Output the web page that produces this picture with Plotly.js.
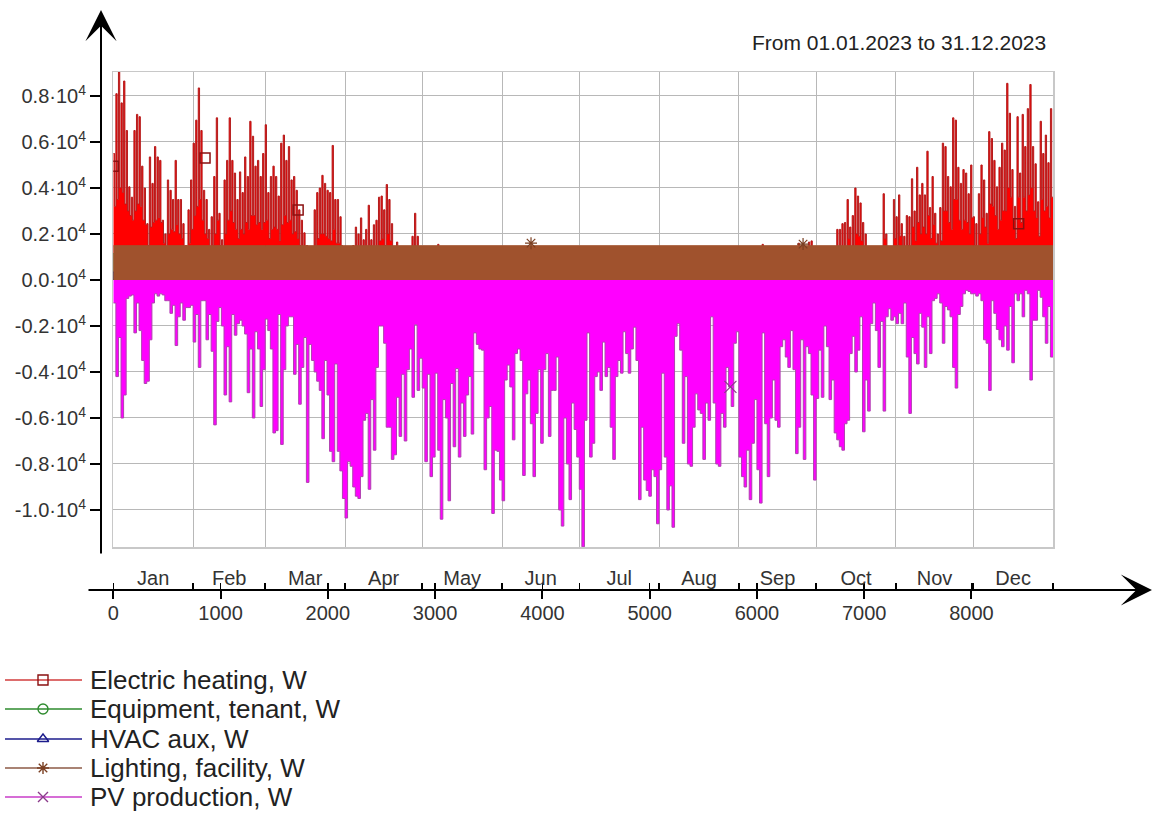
<!DOCTYPE html>
<html><head><meta charset="utf-8">
<script src="https://cdn.plot.ly/plotly-3.0.1.min.js"></script>
<style>html,body{margin:0;padding:0;background:#fff}#chart{width:1154px;height:814px}</style>
</head><body><div id="chart"></div>
<script>
// ---------------- DATA ----------------
const monthNames = ['Jan','Feb','Mar','Apr','May','Jun','Jul','Aug','Sep','Oct','Nov','Dec'];
const monthStartHours = [0,744,1416,2160,2880,3624,4344,5088,5832,6552,7296,8016,8760];
const xTickVals = [0,1000,2000,3000,4000,5000,6000,7000,8000];
const xTickText = ['0','1000','2000','3000','4000','5000','6000','7000','8000'];
const yTickVals = [-10000,-8000,-6000,-4000,-2000,0,2000,4000,6000,8000];
const yTickText = ['-1.0·10<sup>4</sup>','-0.8·10<sup>4</sup>','-0.6·10<sup>4</sup>','-0.4·10<sup>4</sup>','-0.2·10<sup>4</sup>',
                   '0.0·10<sup>4</sup>','0.2·10<sup>4</sup>','0.4·10<sup>4</sup>','0.6·10<sup>4</sup>','0.8·10<sup>4</sup>'];
const seriesNames = ['Electric heating, W','Equipment, tenant, W','HVAC aux, W','Lighting, facility, W','PV production, W'];
const periodText = 'From 01.01.2023 to 31.12.2023';

// Electric heating, W : daily peak (first half of day) and daily low (second half), one value per day
const heatDailyPeak = [
 5500,8100,9050,7700,8650,6500,4050,3600,6500,7200,7100,4950,4000,2450,5350,4200,5800,5350,5200,2600,2000,4350,3900,3500,5200,3500,3500,2450,1500,3050,4350, // Jan
 5950,6950,8350,6500,3900,3500,2200,2750,4500,7050,2900,1750,4350,5200,7050,5200,4650,3500,4700,3800,5350,4500,6900,6250,4950,5200,4500,5500, // Feb
 6750,3800,4500,4950,4500,3650,5950,6300,5200,5800,4350,4500,3900,3050,2600,2050,1500,1000,800,3050,3800,4000,4550,4200,3900,3800,5850,3500,3500,2750,1200, // Mar
 1000,800,1200,1500,2300,2000,2700,1750,2200,3250,1750,2400,2600,3600,3650,3050,4150,3500,2450,1400,1650,600,600,600,600,1000,1900,2900,1900,800, // Apr
 0,0,0,0,0,0,1550,0,0,0,0,0,0,0,0,0,0,0,0,0,0,0,0,0,0,0,0,0,0,0,0, // May
 0,0,0,0,0,0,0,0,0,0,0,0,0,0,0,0,0,0,0,0,0,0,0,0,0,0,0,0,0,0, // Jun
 0,0,0,0,0,0,0,0,0,0,0,0,0,0,0,0,0,0,0,0,0,0,0,0,0,0,0,0,0,0,0, // Jul
 0,0,0,0,0,0,0,0,0,0,0,0,0,0,0,0,0,0,0,0,0,0,0,0,0,0,0,0,0,0,0, // Aug
 0,0,0,0,0,0,0,0,0,1550,0,0,0,0,0,0,0,0,0,0,0,0,0,1600,0,0,0,1650,1700,0, // Sep
 0,0,0,0,0,600,900,1200,2200,2200,2450,2500,3500,2300,2800,4000,3650,3350,2500,2000,1000,800,700,900,1200,1400,3750,2000,1300,1400,3500, // Oct
 2750,3700,2450,1900,2800,2750,4400,3000,4900,3700,4200,3700,5600,3150,4500,2900,2000,3150,5950,5800,4500,4050,7050,6950,4900,4200,4800,4650,3750,5000, // Nov
 2750,2450,3750,5000,4350,2900,6450,6150,5200,4050,4900,5950,5650,8550,7250,4800,3200,7100,4650,7200,5800,7450,8500,5800,5050,3400,6900,5500,6300,5100,7450  // Dec
];
const heatDailyLow = [
 3200,3500,4000,3800,3300,3000,2800,2600,3000,3300,3200,2600,2400,1500,2300,2500,2600,2700,2500,1600,1200,2000,2200,2100,2400,2000,1800,1400,900,1600,2200, // Jan
 2800,3200,3500,2600,2000,1800,1200,1500,2000,2600,1500,1000,2000,2600,3000,2500,2200,1800,2200,2000,2500,2200,2800,2800,2400,2500,2200,2500, // Feb
 2600,1800,2200,2300,2200,1700,2400,2800,2500,2600,2000,2100,1800,1500,1300,1000,700,500,400,1200,1800,2000,2000,1900,1800,1700,2200,1600,1600,1500,1100, // Mar
 500,400,500,700,1100,1000,1300,900,1100,1500,900,1200,1300,1700,1800,1500,2000,1700,1200,700,800,300,300,300,300,500,900,1300,900,400, // Apr
 0,0,0,0,0,0,0,0,0,0,0,0,0,0,0,0,0,0,0,0,0,0,0,0,0,0,0,0,0,0,0, // May
 0,0,0,0,0,0,0,0,0,0,0,0,0,0,0,0,0,0,0,0,0,0,0,0,0,0,0,0,0,0, // Jun
 0,0,0,0,0,0,0,0,0,0,0,0,0,0,0,0,0,0,0,0,0,0,0,0,0,0,0,0,0,0,0, // Jul
 0,0,0,0,0,0,0,0,0,0,0,0,0,0,0,0,0,0,0,0,0,0,0,0,0,0,0,0,0,0,0, // Aug
 0,0,0,0,0,0,0,0,0,0,0,0,0,0,0,0,0,0,0,0,0,0,0,0,0,0,0,0,0,0, // Sep
 0,0,0,0,0,300,400,600,1200,1200,1300,1300,1800,1200,1400,2000,1900,1700,1300,1000,500,400,300,400,600,700,1800,1000,700,700,1800, // Oct
 1500,1900,1300,1000,1500,1400,2300,1700,2500,2000,2300,2000,2800,1800,2400,1600,1100,1700,3000,3000,2500,2200,3500,3500,2600,2200,2600,2500,2000,2700, // Nov
 1500,1400,2000,2700,2300,1600,3300,3200,2800,2200,2600,3000,3000,4000,3600,2600,1800,3600,2500,3600,3000,3700,4000,3000,2700,1900,3500,3000,3200,2700,3600  // Dec
];
// PV production, W : daily peak (negative = production)
const pvDailyPeak = [
 -1000,-4200,-2500,-6000,-5000,-800,-700,-650,-2300,-1000,-2200,-3500,-4500,-4400,-2600,-1000,-600,-700,-600,-650,-900,-900,-1450,-1100,-2850,-1600,-1000,-1750,-1200,-1200,-1100, // Jan
 -2700,-1500,-3800,-900,-900,-2600,-1500,-3100,-6300,-1800,-1200,-2000,-5000,-2900,-5300,-1500,-2400,-1900,-1750,-2000,-2350,-4900,-3000,-6000,-2250,-3000,-5500,-3900, // Feb
 -1700,-2200,-3000,-6650,-6550,-1500,-7150,-3900,-2000,-1600,-1600,-4100,-2800,-5400,-3800,-2500,-8800,-2800,-3500,-4000,-4400,-4800,-6900,-3500,-5000,-7450,-7900,-3650,-7450,-8300,-9500, // Mar
 -10350,-7900,-8100,-9000,-9400,-9500,-8550,-6100,-5800,-9100,-5200,-7400,-3800,-2000,-2000,-2750,-6400,-6400,-7800,-7600,-5100,-6800,-4100,-7000,-3900,-3000,-5100,-1950,-4800,-3400, // Apr
 -4700,-7900,-4100,-8550,-7700,-4050,-7400,-10400,-5200,-6000,-9600,-4500,-7250,-3850,-7700,-5350,-6800,-5000,-4200,-6700,-2300,-2800,-3000,-3050,-8250,-6000,-5500,-10150,-7400,-7450,-8700, // May
 -9600,-4350,-3700,-4650,-6950,-3200,-3000,-3500,-8500,-4950,-4350,-6250,-8550,-5800,-3900,-7100,-3900,-3200,-6800,-4800,-4800,-3350,-10000,-10700,-6000,-8000,-9550,-5350,-6500,-7700, // Jun
 -9100,-11600,-6100,-2300,-7700,-7100,-4200,-4000,-4800,-2700,-4200,-3800,-6400,-7800,-4200,-3500,-4050,-2250,-3200,-4050,-3000,-2050,-3500,-9550,-6400,-8700,-9150,-9400,-8250,-8550,-10600, // Jul
 -8250,-4050,-7700,-10000,-8950,-10750,-2450,-1900,-3050,-7100,-4200,-8000,-8100,-6400,-4950,-5650,-5800,-7800,-5350,-6100,-1600,-5350,-8000,-8100,-5800,-6400,-3800,-4650,-5500,-2750,-2250, // Aug
 -7700,-8550,-9000,-7400,-9550,-7100,-5200,-8250,-9700,-2300,-6250,-8550,-6000,-4350,-6100,-6400,-2900,-2600,-3350,-3800,-2200,-3900,-7550,-6400,-2600,-7800,-2900,-3200,-5000,-8700, // Sep
 -5150,-3050,-5100,-2000,-2900,-5200,-4350,-6650,-6950,-7250,-7400,-6250,-6100,-3200,-2450,-4000,-3050,-1600,-6600,-4350,-5700,-1900,-1000,-2200,-3800,-1800,-5700,-1600,-1250,-1750,-1600, // Oct
 -1900,-1450,-1900,-1000,-3350,-5800,-2500,-3200,-3650,-1450,-2050,-3800,-1600,-3200,-900,-800,-600,-1000,-2750,-1150,-1300,-1600,-3800,-4700,-1500,-1150,-600,-450,-500,-600, // Nov
 -600,-700,-600,-900,-2600,-2750,-4800,-900,-1450,-2150,-2600,-2900,-2000,-3050,-1150,-3600,-600,-900,-600,-1600,-450,-600,-4350,-1750,-1750,-450,-750,-1600,-2750,-1150,-3350  // Dec
];
// monthly on-level of the flat loads, W
const lightingMonthly  = [1490,1490,1490,1490,1490,1490,1490,1490,1490,1490,1490,1490];
const equipmentMonthly = [1150,1150,1150,1150,1150,1150,1150,1150,1150,1150,1150,1150];
const hvacMonthly      = [350,350,350,350,350,350,350,350,350,350,350,350];
// curve markers as placed by the source program
const heatMarkHours = [0, 855, 1723, 8440];
const heatMarkValues = [4950, 5300, 3040, 2450];
const lightMarkHours = [3894, 6430];
const lightMarkValues = [1600, 1560];
const pvMarkHours = [5753];
const pvMarkValues = [-4650];

// ---------------- STYLE / LAYOUT ----------------
const W = 1154, H = 814;
const px = v => v / W, py = v => 1 - v / H;
const FONT = 'Liberation Sans, Arial, sans-serif';
const C = {
  heatFill:'#ff0000', heatLine:'#b41c1c', heatMark:'#8b1010', heatLeg:'#d23c3c',
  equip:'#2e8b2e', hvac:'#1c1c8c',
  light:'#a0522d', lightMark:'#7a3f22', lightLeg:'#8c5a46',
  pvFill:'#ff00ff', pvLine:'#b040b0', pvMark:'#8a3a8a', pvLeg:'#c83cc8',
  grid:'#b8b8b8', frame:'#c8c8c8', text:'#222'
};

// heating: first half of each day at the peak, second half at the low (step curve)
const heatX = [], heatY = [];
heatDailyPeak.forEach((v, d) => { heatX.push(d*24, d*24+12); heatY.push(v, heatDailyLow[d]); });
heatX.push(8760); heatY.push(heatY[heatY.length-1]);
// PV: one step per day
const pvX = [], pvY = [];
pvDailyPeak.forEach((v, d) => { pvX.push(d*24); pvY.push(v); });
pvX.push(8760); pvY.push(pvY[pvY.length-1]);
const stepY = arr => arr.concat([arr[arr.length-1]]);
const monthMid = monthNames.map((m,i) => (monthStartHours[i] + monthStartHours[i+1]) / 2);

const traces = [
  {x: heatX, y: heatY, type:'scatter', mode:'lines', fill:'tozeroy', fillcolor:C.heatFill,
   line:{shape:'hv', color:C.heatLine, width:1}, name:seriesNames[0], showlegend:false},
  {x: monthStartHours, y: stepY(equipmentMonthly), type:'scatter', mode:'lines', line:{shape:'hv', color:C.equip, width:1},
   fill:'tozeroy', fillcolor:C.equip, name:seriesNames[1], showlegend:false},
  {x: monthStartHours, y: stepY(hvacMonthly), type:'scatter', mode:'lines', line:{shape:'hv', color:C.hvac, width:1},
   fill:'tozeroy', fillcolor:C.hvac, name:seriesNames[2], showlegend:false},
  {x: monthStartHours, y: stepY(lightingMonthly), type:'scatter', mode:'lines', line:{shape:'hv', color:C.light, width:1},
   fill:'tozeroy', fillcolor:C.light, name:seriesNames[3], showlegend:false},
  {x: pvX, y: pvY, type:'scatter', mode:'lines', fill:'tozeroy', fillcolor:C.pvFill,
   line:{shape:'hv', color:C.pvLine, width:1}, name:seriesNames[4], showlegend:false},
  {x: heatMarkHours, y: heatMarkValues, type:'scatter', mode:'markers', showlegend:false,
   marker:{symbol:'square-open', size:10, color:C.heatMark, line:{width:1.5}}},
  {x: lightMarkHours, y: lightMarkValues, type:'scatter', mode:'markers', showlegend:false,
   marker:{symbol:'asterisk-open', size:10, color:C.lightMark, line:{width:1.2}}},
  {x: pvMarkHours, y: pvMarkValues, type:'scatter', mode:'markers', showlegend:false,
   marker:{symbol:'x-thin-open', size:12, color:C.pvMark, line:{width:1.2}}},
  // empty traces so that the free overlay axes (tick/label axes) get drawn
  {x:[], y:[], xaxis:'x', yaxis:'y2', type:'scatter', mode:'lines', showlegend:false, hoverinfo:'skip'},
  {x:[], y:[], xaxis:'x2', yaxis:'y', type:'scatter', mode:'lines', showlegend:false, hoverinfo:'skip'},
  {x:[], y:[], xaxis:'x3', yaxis:'y', type:'scatter', mode:'lines', showlegend:false, hoverinfo:'skip'},
  {x:[], y:[], xaxis:'x4', yaxis:'y', type:'scatter', mode:'lines', showlegend:false, hoverinfo:'skip'},
  {x:[], y:[], xaxis:'x6', yaxis:'y', type:'scatter', mode:'lines', showlegend:false, hoverinfo:'skip'}
];

// custom legend (long line samples like the source program)
const legendRowY = [680, 709, 739, 768, 797];
const legendLineColors = [C.heatLeg, C.equip, C.hvac, C.lightLeg, C.pvLeg];
const legendMarkColors = [C.heatMark, C.equip, C.hvac, C.lightMark, C.pvMark];
const legendSymbols = ['square-open','circle-open','triangle-up-open','asterisk-open','x-thin-open'];
const shapes = [];
const annotations = [];
seriesNames.forEach((name, i) => {
  shapes.push({type:'line', xref:'x5', yref:'y5', x0:5, x1:82, y0:legendRowY[i], y1:legendRowY[i],
               line:{color:legendLineColors[i], width:1.5}, layer:'below'});
  traces.push({x:[43], y:[legendRowY[i]], xaxis:'x5', yaxis:'y5', type:'scatter', mode:'markers', showlegend:false,
               hoverinfo:'skip', marker:{symbol:legendSymbols[i], size:10, color:legendMarkColors[i], line:{width:1.4}}});
  annotations.push({xref:'x5', yref:'y5', x:88, y:legendRowY[i], xanchor:'left', yanchor:'middle', showarrow:false,
                    text:name, font:{family:FONT, size:26, color:C.text}});
});
// title
annotations.push({xref:'paper', yref:'paper', x:px(1048), y:py(43), xanchor:'right', yanchor:'middle', showarrow:false,
                  text:periodText, font:{family:FONT, size:21, color:C.text}});
// black arrow axes
annotations.push({xref:'paper', yref:'paper', x:px(101), y:py(10), ax:0, ay:545, axref:'pixel', ayref:'pixel',
                  text:'', showarrow:true, arrowhead:3, arrowsize:2.6, arrowwidth:2, arrowcolor:'#000', standoff:0, startstandoff:0});
annotations.push({xref:'paper', yref:'paper', x:px(1152), y:py(590), ax:-1065, ay:0, axref:'pixel', ayref:'pixel',
                  text:'', showarrow:true, arrowhead:3, arrowsize:2.6, arrowwidth:2, arrowcolor:'#000', standoff:0, startstandoff:0});

const xRange = [0, 8760], yRange = [-11609, 9043];
const yTickFont = {family:FONT, size:20, color:'#333'};
const xTickFont = {family:FONT, size:20, color:'#333'};
const monthFont = {family:FONT, size:20, color:'#333'};
const layout = {
  width:W, height:H, margin:{l:0, r:0, t:0, b:0},
  paper_bgcolor:'#fff', plot_bgcolor:'rgba(0,0,0,0)', showlegend:false,
  xaxis:{domain:[px(113.3), px(1053)], range:xRange, tickvals:monthStartHours, showticklabels:false, ticks:'',
         showgrid:true, gridcolor:C.grid, gridwidth:1, zeroline:false, showline:true, mirror:true,
         linecolor:C.frame, linewidth:1.5, fixedrange:true},
  yaxis:{domain:[py(547), py(72)], range:yRange, tickvals:yTickVals, showticklabels:false, ticks:'',
         showgrid:true, gridcolor:C.grid, gridwidth:1, zeroline:false, showline:true, mirror:true,
         linecolor:C.frame, linewidth:1.5, fixedrange:true},
  yaxis2:{overlaying:'y', anchor:'free', position:px(101), side:'left', range:yRange, tickvals:yTickVals, ticktext:yTickText,
          ticks:'outside', ticklen:11, tickwidth:2, tickcolor:'#000', showline:false, showgrid:false, zeroline:false,
          tickfont:yTickFont, fixedrange:true},
  // tick marks below the arrow axis
  xaxis2:{overlaying:'x', anchor:'free', position:py(590), side:'bottom', range:xRange, tickvals:xTickVals,
          showticklabels:false, ticks:'outside', ticklen:8, tickwidth:2, tickcolor:'#000', showline:false, showgrid:false,
          zeroline:false, fixedrange:true},
  // tick marks above the arrow axis (month boundaries + major)
  xaxis3:{overlaying:'x', anchor:'free', position:py(590), side:'top', range:xRange, tickvals:monthStartHours.concat(xTickVals),
          showticklabels:false, ticks:'outside', ticklen:7, tickwidth:1.5, tickcolor:'#000', showline:false, showgrid:false,
          zeroline:false, fixedrange:true},
  // month names
  xaxis4:{overlaying:'x', anchor:'free', position:py(590), side:'top', range:xRange, tickvals:monthMid, ticktext:monthNames,
          ticks:'', showline:false, showgrid:false, zeroline:false, tickfont:monthFont, ticklabelstandoff:1, fixedrange:true},
  // hour labels
  xaxis6:{overlaying:'x', anchor:'free', position:py(590), side:'bottom', range:xRange, tickvals:xTickVals, ticktext:xTickText,
          ticks:'', showline:false, showgrid:false, zeroline:false, tickfont:xTickFont, ticklabelstandoff:9, fixedrange:true},
  xaxis5:{domain:[0, px(400)], range:[0,400], visible:false, anchor:'y5', fixedrange:true},
  yaxis5:{domain:[0, py(650)], range:[814,650], visible:false, anchor:'x5', fixedrange:true},
  shapes:shapes, annotations:annotations
};
Plotly.newPlot('chart', traces, layout, {displayModeBar:false, staticPlot:true});
</script>
</body></html>
